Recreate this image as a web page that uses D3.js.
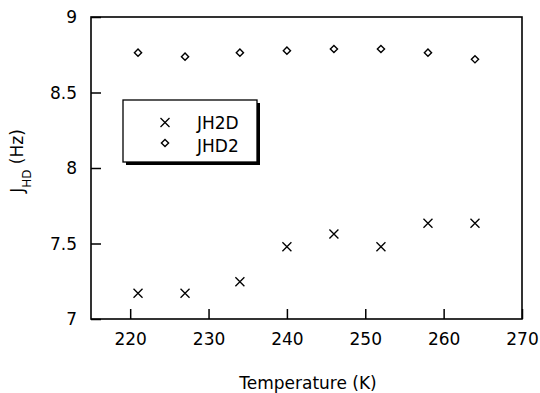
<!DOCTYPE html>
<html><head><meta charset="utf-8">
<script src="https://cdn.jsdelivr.net/npm/d3@7"></script>
<style>body{margin:0;background:#fff}svg{display:block}text{font-family:"DejaVu Sans",sans-serif;fill:#000}</style>
</head><body><svg id="c" width="540" height="393"></svg>
<script>
const temps = [221, 227, 234, 240, 246, 252, 258, 264];
const jh2d  = [7.17, 7.17, 7.247, 7.479, 7.563, 7.479, 7.634, 7.634];
const jhd2  = [8.764, 8.737, 8.764, 8.777, 8.788, 8.788, 8.764, 8.72];
const xTicks = [220, 230, 240, 250, 260, 270];
const yTicks = [7, 7.5, 8, 8.5, 9];
const seriesNames = ["JH2D", "JHD2"];

const svg = d3.select("#c");
const L = 91, R = 522, T = 17, B = 319;
const x = d3.scaleLinear().domain([215, 270]).range([L, R]);
const y = d3.scaleLinear().domain([7, 9]).range([B, T]);

const xa = svg.append("g").attr("transform", `translate(0,${B})`)
  .call(d3.axisBottom(x).tickValues(xTicks).tickSizeInner(-10).tickSizeOuter(0).tickPadding(14).tickFormat(d3.format("d")));
const ya = svg.append("g").attr("transform", `translate(${L},0)`)
  .call(d3.axisLeft(y).tickValues(yTicks).tickSizeInner(-10).tickSizeOuter(0).tickPadding(14).tickFormat(d => String(d)));
[xa, ya].forEach(a => {
  a.select(".domain").remove();
  a.selectAll(".tick line").attr("stroke", "#000").attr("stroke-width", 1.5);
  a.selectAll(".tick text").attr("font-size", 17).attr("font-family", "DejaVu Sans").attr("fill", "#000");
});
ya.selectAll(".tick text").attr("dy", "0.35em");

svg.append("rect").attr("x", L).attr("y", T).attr("width", R - L).attr("height", B - T)
  .attr("fill", "none").attr("stroke", "#000").attr("stroke-width", 1.6);

// markers
const cross = (g, cx, cy, s) => g.append("path")
  .attr("d", `M${cx-s},${cy-s}L${cx+s},${cy+s}M${cx-s},${cy+s}L${cx+s},${cy-s}`)
  .attr("stroke", "#000").attr("stroke-width", 1.3).attr("fill", "none");
const diamond = (g, cx, cy, s) => g.append("path")
  .attr("d", `M${cx},${cy-s}L${cx+s},${cy}L${cx},${cy+s}L${cx-s},${cy}Z`)
  .attr("stroke", "#000").attr("stroke-width", 1.4).attr("fill", "#fff");

const pts = svg.append("g");
temps.forEach((t, i) => cross(pts, x(t), y(jh2d[i]), 4.5));
temps.forEach((t, i) => diamond(pts, x(t), y(jhd2[i]), 3.6));

// x label
svg.append("text").attr("x", 308).attr("y", 389).attr("text-anchor", "middle")
  .attr("font-size", 17).text("Temperature (K)");

// y label
const yl = svg.append("text").attr("transform", "translate(23,161) rotate(-90)")
  .attr("text-anchor", "middle").attr("font-size", 17);
yl.append("tspan").text("J");
yl.append("tspan").attr("font-size", 12).attr("dy", 8).text("HD");
yl.append("tspan").attr("dy", -8).text(" (Hz)");

// legend
const lg = svg.append("g");
lg.append("rect").attr("x", 126).attr("y", 103).attr("width", 134).attr("height", 62).attr("fill", "#000");
lg.append("rect").attr("x", 123).attr("y", 100).attr("width", 134).attr("height", 62)
  .attr("fill", "#fff").attr("stroke", "#000").attr("stroke-width", 1.3);
cross(lg, 165, 122.5, 4.5);
diamond(lg, 165, 143, 3.6);
lg.append("text").attr("x", 197).attr("y", 128.5).attr("font-size", 17).text(seriesNames[0]);
lg.append("text").attr("x", 197).attr("y", 151.5).attr("font-size", 17).text(seriesNames[1]);
</script></body></html>
